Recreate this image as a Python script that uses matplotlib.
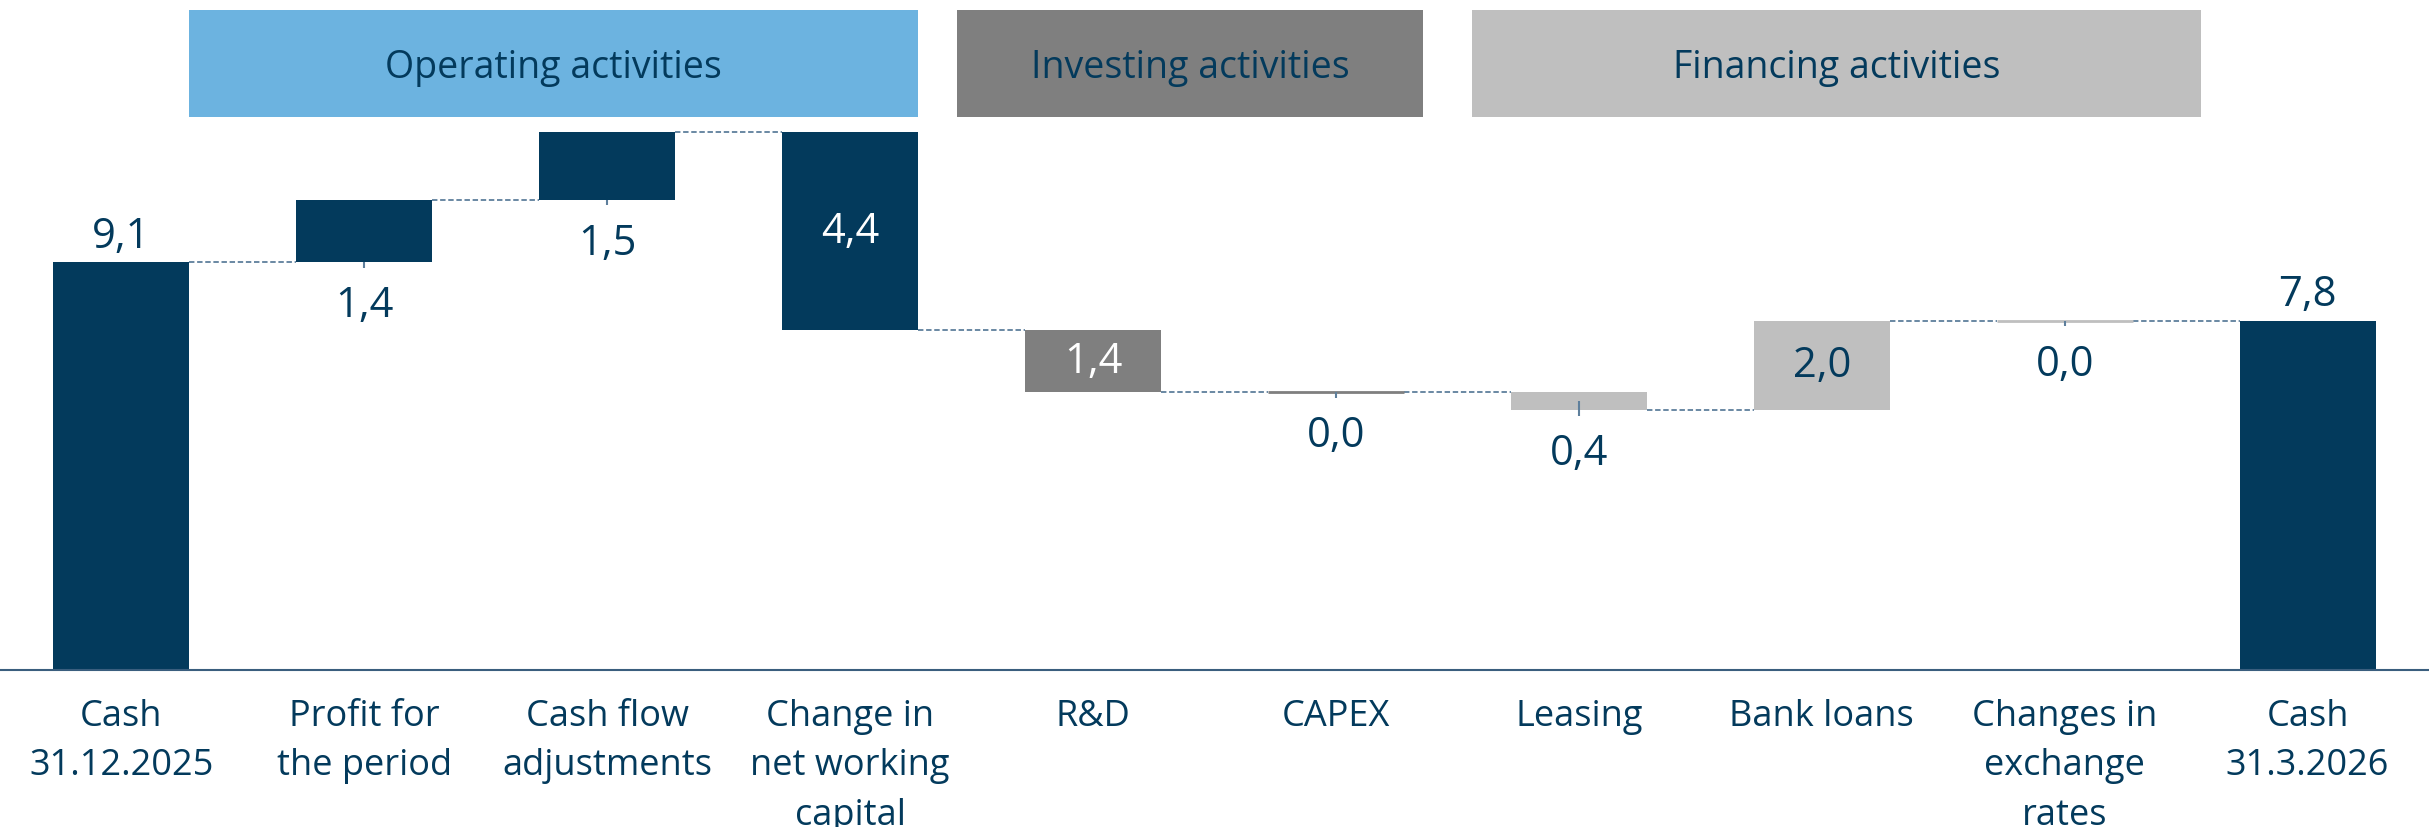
import matplotlib
matplotlib.use("Agg")
import matplotlib.pyplot as plt
import numpy as np

plt.rcParams['font.family'] = ['Open Sans', 'DejaVu Sans']

# data
categories = ["Cash\n31.12.2025", "Profit for\nthe period", "Cash flow\nadjustments",
              "Change in\nnet working\ncapital", "R&D", "CAPEX", "Leasing",
              "Bank loans", "Changes in\nexchange\nrates", "Cash\n31.3.2026"]
changes = [9.1, 1.4, 1.5, -4.4, -1.4, 0.0, -0.4, 2.0, 0.0, 7.8]
is_total = [True, False, False, False, False, False, False, False, False, True]
groups = ["Operating activities", "Investing activities", "Financing activities"]
group_span = [(0.28, 3.28), (3.44, 5.36), (5.56, 8.56)]

navy = '#033A5C'
gray = '#7F7F7F'
lgray = '#BFBFBF'
blue = '#6CB3E0'
dash_col = '#5E7F9C'

bar_colors = [navy, navy, navy, navy, gray, gray, lgray, lgray, lgray, navy]
group_colors = [blue, gray, lgray]
label_pos = ['above', 'below', 'below', 'inside', 'inside', 'below', 'below', 'inside', 'below', 'above']

# waterfall geometry
bottoms, heights, levels = [], [], []
run = 0.0
for v, tot in zip(changes, is_total):
    if tot:
        bottoms.append(0.0)
        heights.append(v)
        run = v
    else:
        new = run + v
        bottoms.append(min(run, new))
        heights.append(abs(v))
        run = new
    levels.append(run)

fig = plt.figure(figsize=(24.29, 8.28), dpi=100)
ax = fig.add_axes([0, 0.1896, 1, 0.8104])
x = np.arange(len(categories))
w = 0.56

ax.bar(x, heights, bottom=bottoms, width=w, color=bar_colors, zorder=2)

# zero change bars drawn as thin lines
for i in range(len(x)):
    if heights[i] == 0:
        ax.hlines(levels[i], x[i] - w / 2, x[i] + w / 2, color=bar_colors[i], lw=2, zorder=3)

# connectors
for i in range(len(x) - 1):
    ax.hlines(levels[i], x[i] + w / 2, x[i + 1] - w / 2, color=dash_col, lw=1.3,
              linestyles=(0, (3, 1.5)), zorder=1)

# value labels
for i in range(len(x)):
    txt = f"{abs(changes[i]):.1f}".replace('.', ',')
    top = bottoms[i] + heights[i]
    if label_pos[i] == 'above':
        ax.annotate(txt, (x[i], top), xytext=(0, 11), textcoords='offset points',
                    ha='center', va='baseline', fontsize=30, color=navy)
    elif label_pos[i] == 'inside':
        c = navy if bar_colors[i] == lgray else 'white'
        ax.text(x[i], bottoms[i] + heights[i] / 2, txt, ha='center', va='center',
                fontsize=30, color=c)
    else:
        b = bottoms[i]
        start = b + heights[i] / 2 if 0 < heights[i] < 0.5 else b
        ax.vlines(x[i], start, b - 0.13, color=dash_col, lw=1.5, zorder=3)
        ax.annotate(txt, (x[i], b), xytext=(0, -31), textcoords='offset points',
                    ha='center', va='center', fontsize=30, color=navy)

# section headers
for g, (x0, x1), c in zip(groups, group_span, group_colors):
    ax.add_patch(plt.Rectangle((x0, 12.35), x1 - x0, 2.38, color=c, lw=0, zorder=2))
    ax.text((x0 + x1) / 2, 12.35 + 1.19 - 0.08, g, ha='center', va='center', fontsize=27, color=navy)

ax.set_xlim(-0.5, 9.5)
ax.set_ylim(0, 14.98)
ax.set_xticks(x)
ax.set_xticklabels(categories, fontsize=26, color=navy, linespacing=1.5)
ax.tick_params(axis='x', length=0, pad=20)
ax.set_yticks([])
for s in ['top', 'right', 'left']:
    ax.spines[s].set_visible(False)
ax.spines['bottom'].set_color('#3A5E7E')
ax.spines['bottom'].set_linewidth(1.5)

fig.savefig('out.png', dpi=100)
